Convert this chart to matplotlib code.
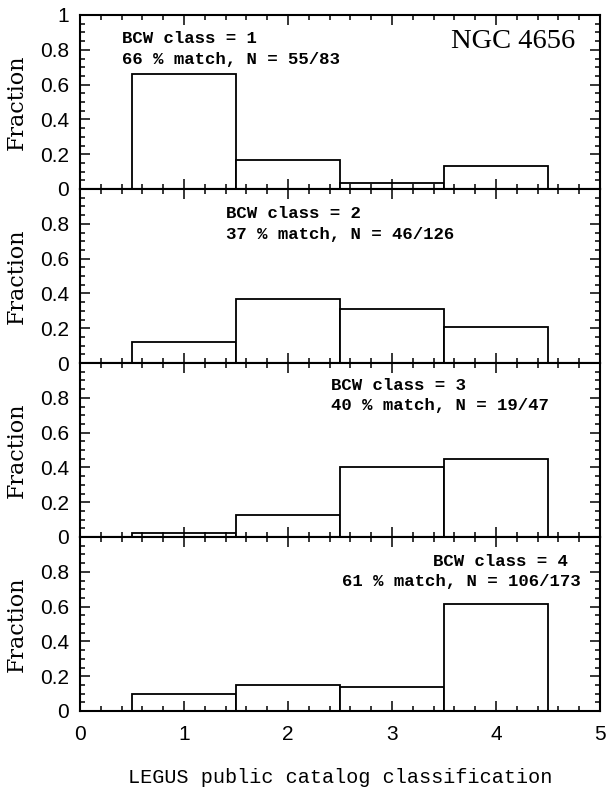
import matplotlib
matplotlib.use("Agg")
import matplotlib.pyplot as plt
from matplotlib.ticker import MultipleLocator

# LEGUS class bins on the x axis
classes = [1, 2, 3, 4]

# fraction per LEGUS class, one list per BCW class
frac_bcw1 = [0.663, 0.169, 0.036, 0.133]
frac_bcw2 = [0.119, 0.365, 0.310, 0.206]
frac_bcw3 = [0.021, 0.128, 0.404, 0.447]
frac_bcw4 = [0.098, 0.150, 0.139, 0.613]

labels_top = ["BCW class = 1", "BCW class = 2", "BCW class = 3", "BCW class = 4"]
labels_bot = ["66 % match, N = 55/83", "37 % match, N = 46/126",
              "40 % match, N = 19/47", "61 % match, N = 106/173"]

MONO = "Liberation Mono"
SERIF = "Liberation Serif"

fig = plt.figure(figsize=(6.06, 7.89), dpi=100)
axs = fig.subplots(nrows=4, ncols=1, sharex=True,
                   gridspec_kw=dict(left=0.132, right=0.990,
                                    top=1 - 15 / 789, bottom=1 - 711 / 789,
                                    hspace=0))

panels = [frac_bcw1, frac_bcw2, frac_bcw3, frac_bcw4]
# text placement (data coords): x, y of line 1, x, y of line 2, alignment
text_pos = [
    (0.40, 0.867, 0.40, 0.746, "left"),
    (1.40, 0.862, 1.40, 0.741, "left"),
    (2.41, 0.868, 2.41, 0.753, "left"),
    (4.69, 0.862, 4.81, 0.747, "right"),
]

for i, ax in enumerate(axs):
    ax.bar(classes, panels[i], width=1.0, color="white",
           edgecolor="black", linewidth=1.3)
    ax.set_xlim(0, 5)
    ax.set_ylim(0, 1)
    ax.xaxis.set_major_locator(MultipleLocator(1))
    ax.xaxis.set_minor_locator(MultipleLocator(0.2))
    ax.yaxis.set_major_locator(MultipleLocator(0.2))
    ax.yaxis.set_minor_locator(MultipleLocator(0.05))
    ax.tick_params(which="both", direction="in", top=True, right=True,
                   width=1.1, labelsize=15, pad=8)
    ax.tick_params(which="major", length=7.5)
    ax.tick_params(which="minor", length=3.8)
    ax.tick_params(axis="x", pad=10)
    for sp in ax.spines.values():
        sp.set_linewidth(1.5)
    for lab in ax.get_yticklabels() + ax.get_xticklabels():
        lab.set_family("Liberation Sans")
    ax.set_yticks([0, 0.2, 0.4, 0.6, 0.8, 1.0])
    if i == 0:
        ax.set_yticklabels(["0", "0.2", "0.4", "0.6", "0.8", "1"])
    else:
        ax.set_yticklabels(["0", "0.2", "0.4", "0.6", "0.8", ""])
    ax.set_ylabel("Fraction", family="DejaVu Serif", fontsize=16)
    ax.yaxis.set_label_coords(-0.100, 0.5)

    x1, y1, x2, y2, ha = text_pos[i]
    ax.text(x1, y1, labels_top[i], ha=ha, va="center", family=MONO,
            fontweight="bold", fontsize=12.5)
    ax.text(x2, y2, labels_bot[i], ha=ha, va="center", family=MONO,
            fontweight="bold", fontsize=12.5)

axs[0].text(4.76, 0.845, "NGC 4656", ha="right", va="center",
            family=SERIF, fontsize=20.5)

axs[-1].set_xticks([0, 1, 2, 3, 4, 5])
axs[-1].set_xticklabels(["0", "1", "2", "3", "4", "5"], family="Liberation Sans")
axs[-1].set_xlabel("LEGUS public catalog classification", family=MONO,
                   fontsize=14.5)
axs[-1].xaxis.set_label_coords(0.5, -0.33)

fig.savefig("out.png", dpi=100)
